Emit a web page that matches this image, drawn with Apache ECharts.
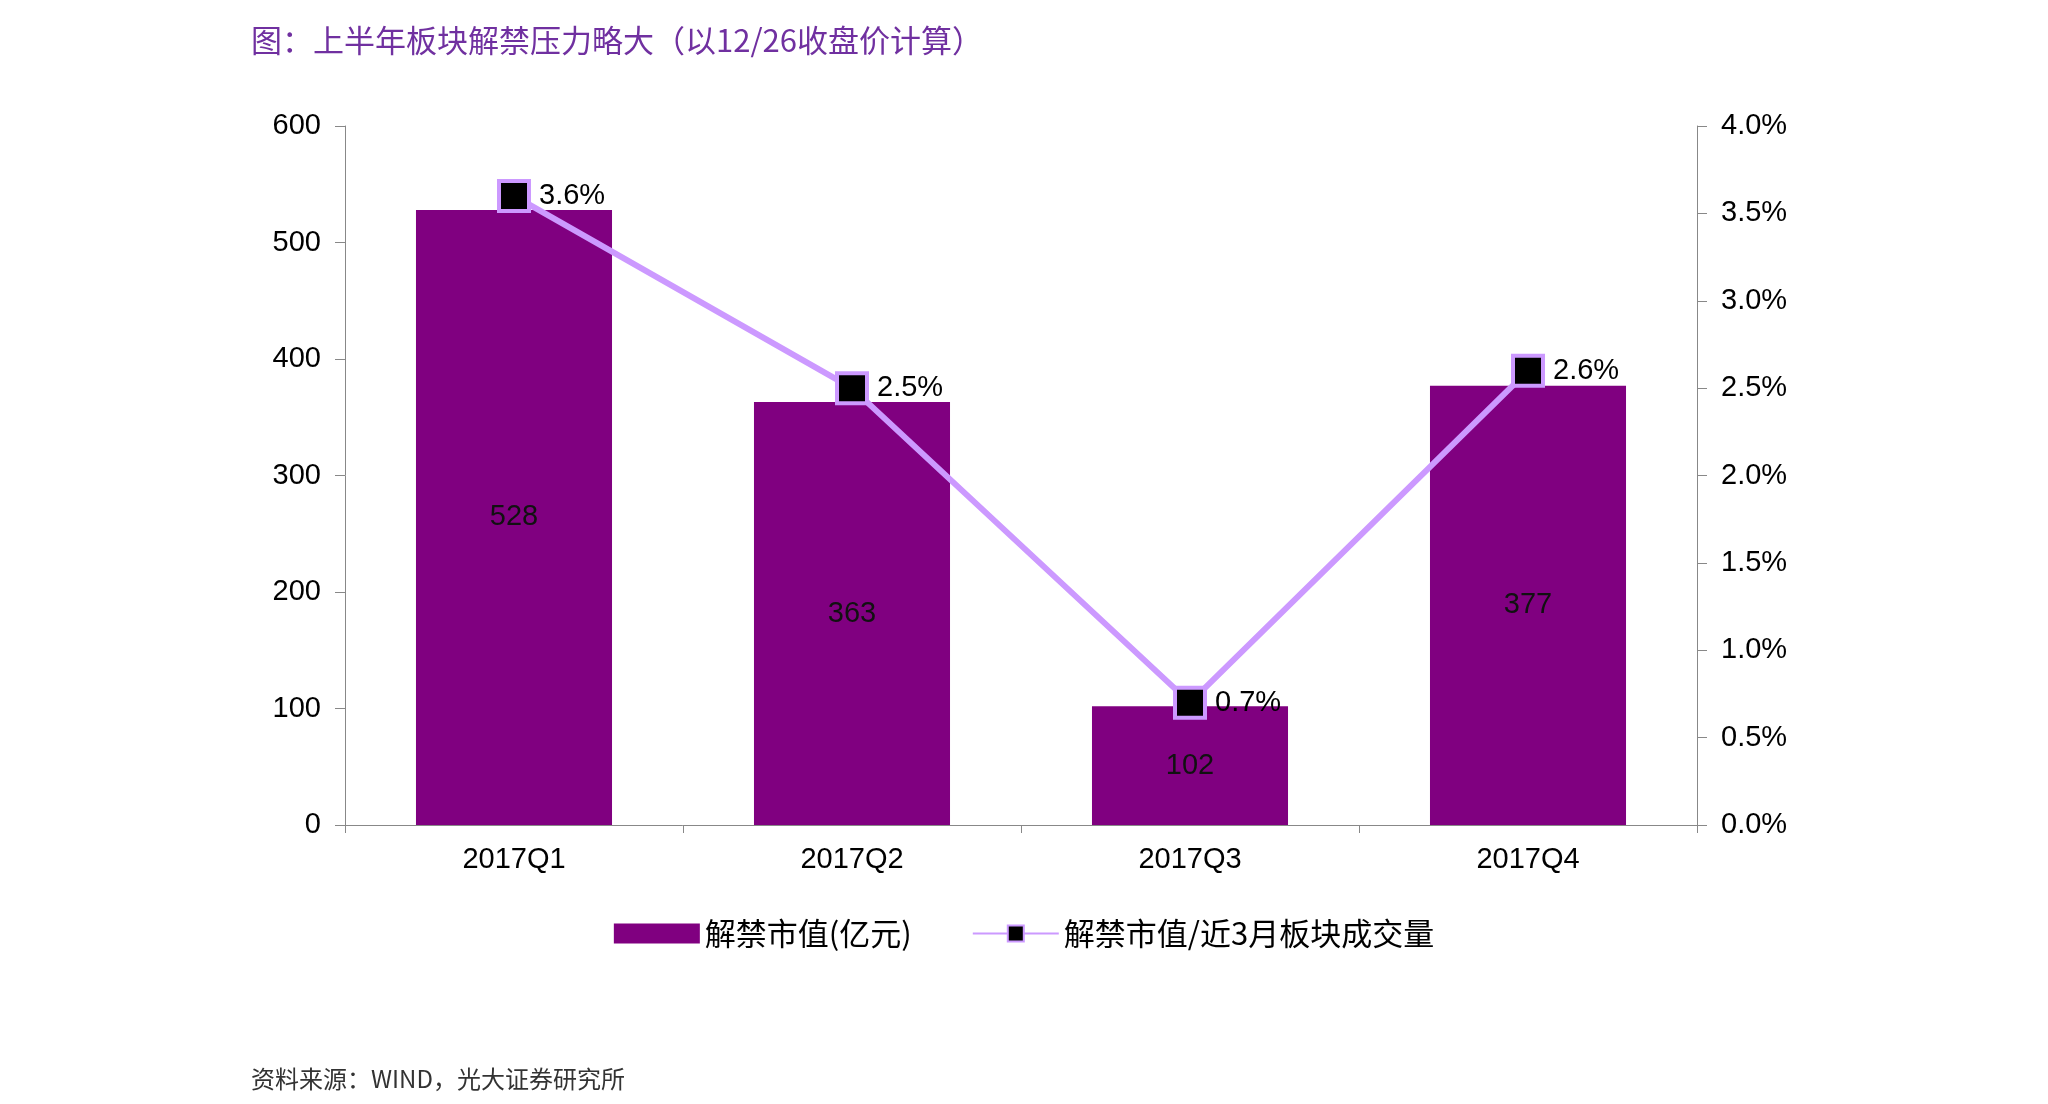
<!DOCTYPE html><html><head><meta charset="utf-8"><script src="https://cdn.jsdelivr.net/npm/echarts@6/dist/echarts.min.js"></script>
<style>html,body{margin:0;background:#fff}#c{width:2048px;height:1104px}</style></head><body><div id="c"></div><script>
const categories=['2017Q1','2017Q2','2017Q3','2017Q4'];
const marketValue=[528,363,102,377];
const ratio=[3.6,2.5,0.7,2.6];
const leftTicks=[0,100,200,300,400,500,600];
const c=echarts.init(document.getElementById('c'));
const f='"Liberation Sans",Arial,sans-serif';
c.setOption({animation:false,
title:[{text:'图：上半年板块解禁压力略大（以12/26收盘价计算）',left:246,top:20,textStyle:{color:'#7030A0',fontSize:31,fontWeight:'normal',fontFamily:'"Noto Sans CJK SC"'}},
{text:'资料来源：WIND，光大证券研究所',left:246,top:1062,textStyle:{color:'#333',fontSize:24,fontWeight:'normal',fontFamily:'"Noto Sans CJK SC"'}}],
legend:{bottom:150,left:'center',itemGap:60,itemWidth:86,itemHeight:20,textStyle:{fontSize:31,color:'#000',fontFamily:'"Noto Sans CJK SC"'},
data:[{name:'解禁市值(亿元)',icon:'rect'},{name:'解禁市值/近3月板块成交量'}]},
grid:{left:345,right:351,top:126,bottom:279},
xAxis:{type:'category',data:categories,axisLine:{lineStyle:{color:'#888'}},axisTick:{show:true,length:8,lineStyle:{color:'#888'}},axisLabel:{fontSize:29,color:'#000',fontFamily:f,margin:20}},
yAxis:[{type:'value',min:0,max:600,interval:100,splitLine:{show:false},axisLine:{show:true,lineStyle:{color:'#888'}},axisTick:{show:true,length:10,inside:false,lineStyle:{color:'#888'}},axisLabel:{fontSize:29,color:'#000',fontFamily:f,margin:24}},
{type:'value',min:0,max:4,interval:0.5,splitLine:{show:false},axisLine:{show:true,lineStyle:{color:'#888'}},axisTick:{show:true,length:10,lineStyle:{color:'#888'}},axisLabel:{fontSize:29,color:'#000',fontFamily:f,margin:24,formatter:v=>v.toFixed(1)+'%'}}],
series:[{name:'解禁市值(亿元)',type:'bar',data:marketValue,barWidth:'58%',itemStyle:{color:'#800080'},label:{show:true,position:'inside',fontSize:29,color:'#111',fontFamily:f}},
{name:'解禁市值/近3月板块成交量',type:'line',yAxisIndex:1,data:ratio,symbol:'rect',symbolSize:30,lineStyle:{color:'#CC99FF',width:6},itemStyle:{color:'#000',borderColor:'#CC99FF',borderWidth:4},
label:{show:true,position:'right',distance:8,fontSize:29,color:'#000',fontFamily:f,formatter:p=>p.value.toFixed(1)+'%'}}]});
</script></body></html>
